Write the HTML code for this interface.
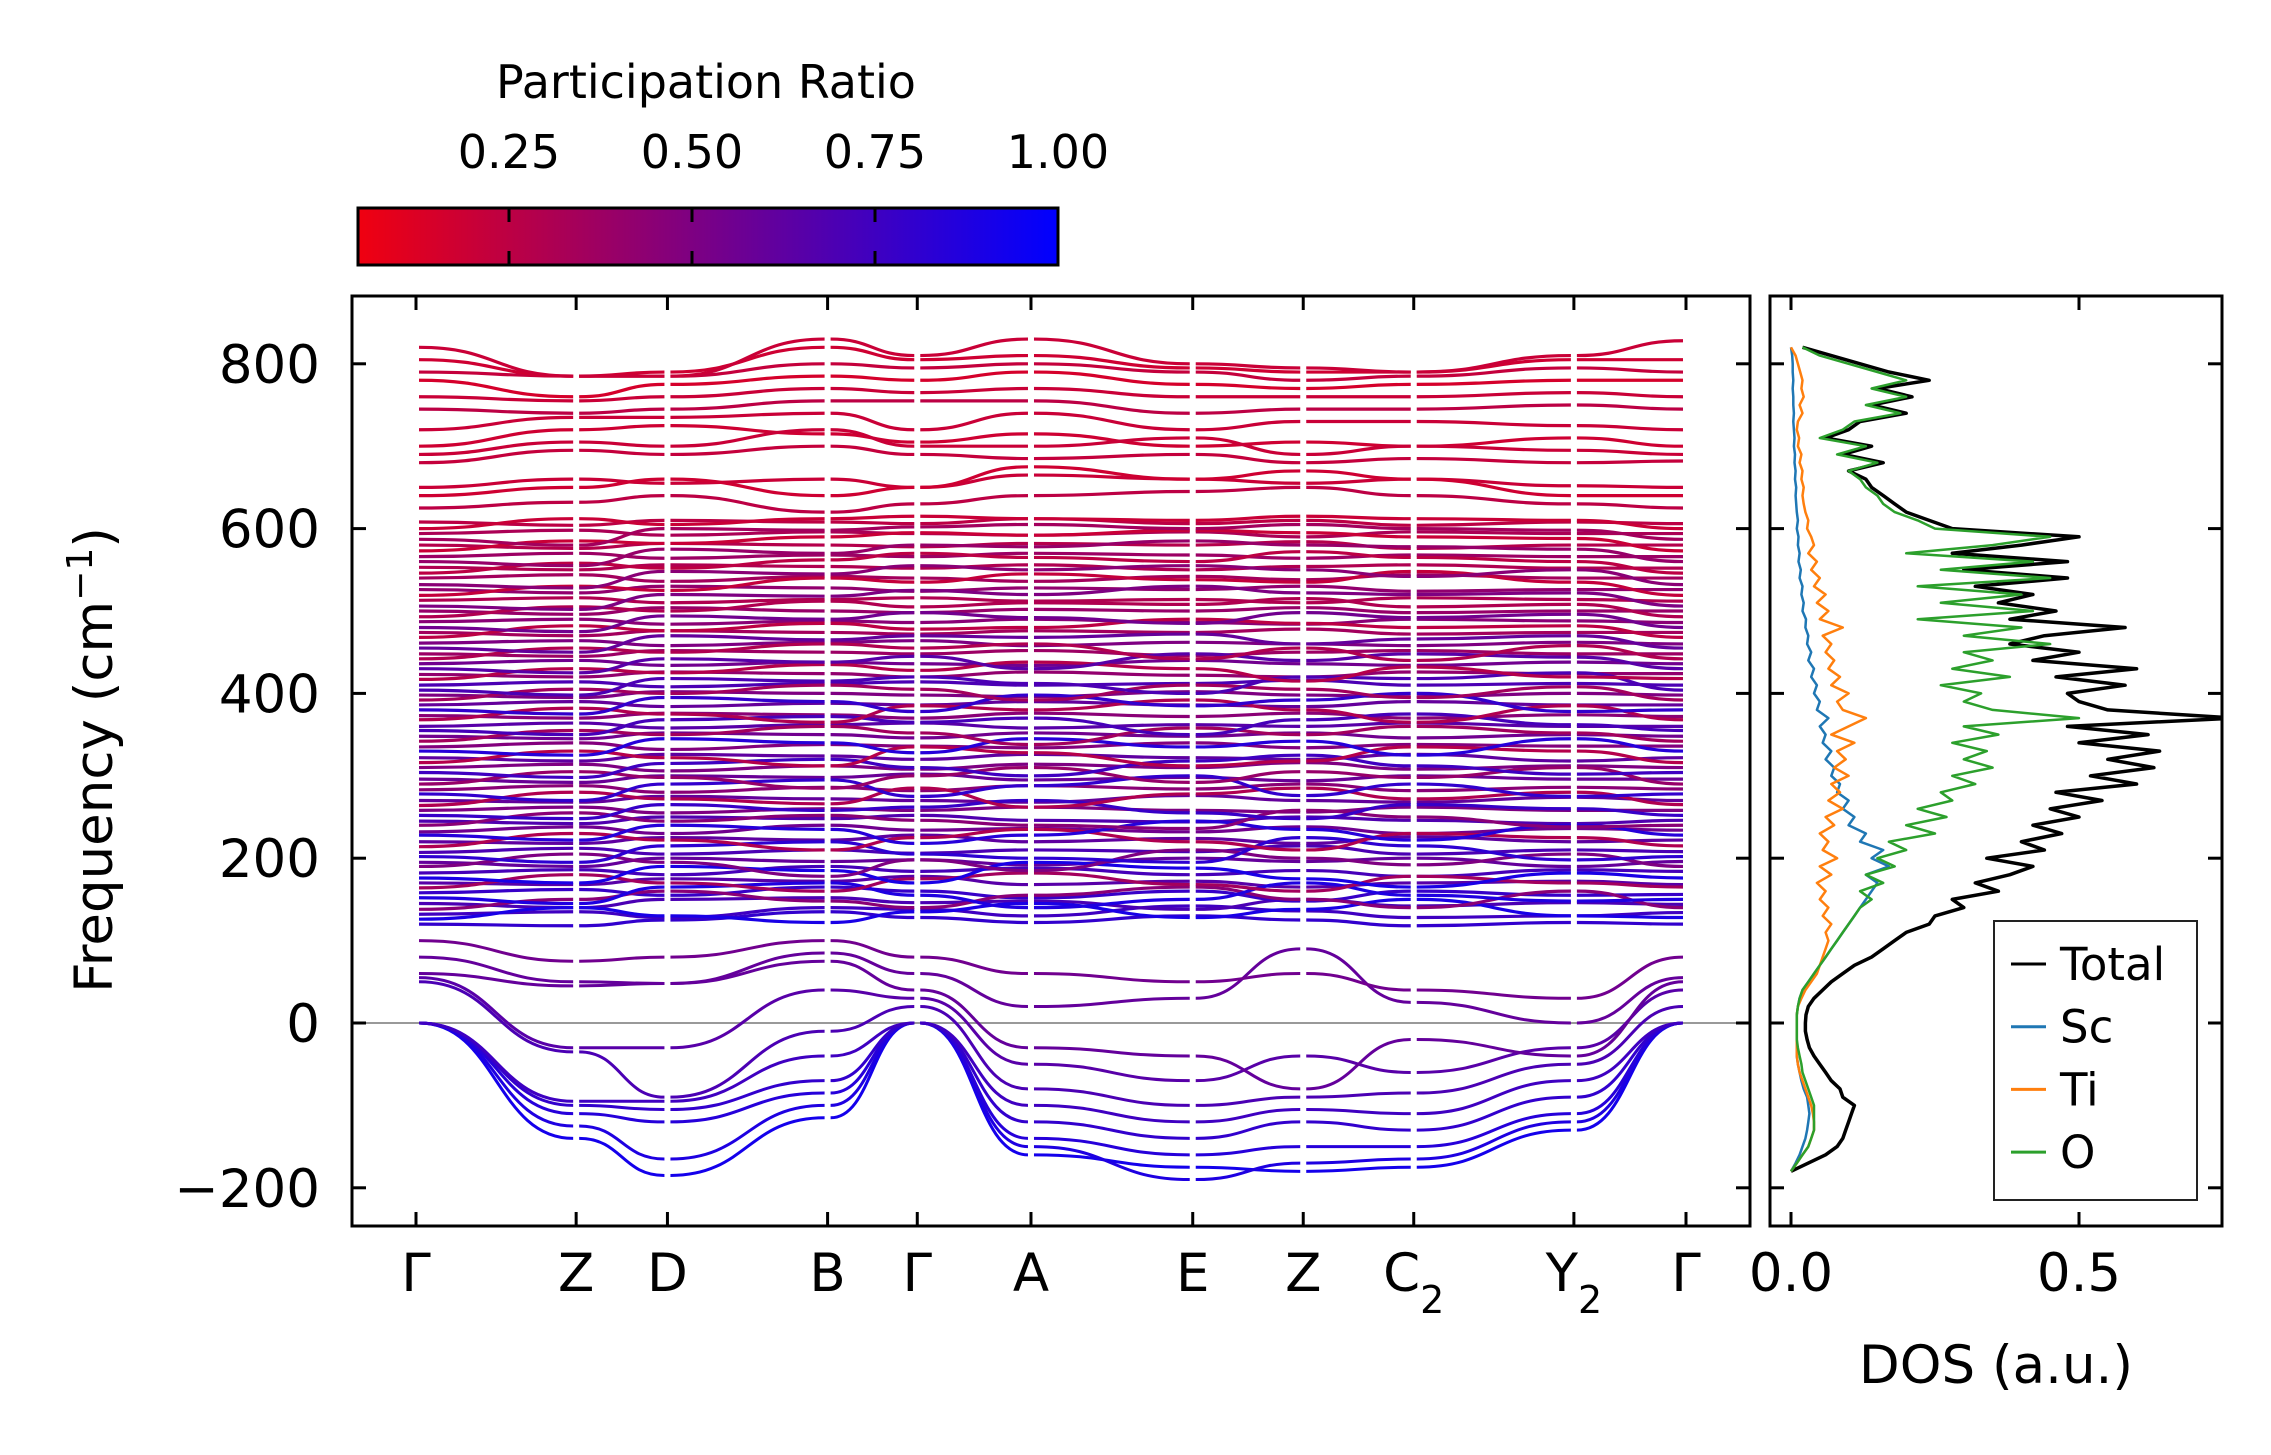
<!DOCTYPE html>
<html><head><meta charset="utf-8"><style>
html,body{margin:0;padding:0;background:#fff;}
svg{display:block;font-family:"DejaVu Sans","Liberation Sans",sans-serif;}
</style></head><body>
<svg id="fig" width="2271" height="1455" viewBox="0 0 2271 1455" xmlns="http://www.w3.org/2000/svg">
<defs>
<linearGradient id="cbgrad" x1="0" x2="1" y1="0" y2="0">
<stop offset="0" stop-color="rgb(240,0,16)"/><stop offset="1" stop-color="rgb(0,0,255)"/>
</linearGradient>
<clipPath id="mainclip"><rect x="352" y="296" width="1398" height="930"/></clipPath>
<clipPath id="dosclip"><rect x="1770" y="296" width="452" height="930"/></clipPath>
</defs>
<g>
<text x="706" y="98" font-size="46" text-anchor="middle">Participation Ratio</text>
<rect x="358" y="208" width="700" height="57" fill="url(#cbgrad)" stroke="#000" stroke-width="3"/>
<g id="cbticks"></g>
</g>
<g id="main"></g>
<g id="dos"></g>
<text transform="translate(112,760) rotate(-90)" font-size="53" text-anchor="middle">Frequency (cm<tspan baseline-shift="super" font-size="36">−1</tspan>)</text>
<text x="1996" y="1383" font-size="53" text-anchor="middle">DOS (a.u.)</text>
</svg>
<script>
const kLabels = ["Γ","Z","D","B","Γ","A","E","Z","C2","Y2","Γ"];
const kPos = [0, 1.0, 1.57, 2.57, 3.13, 3.84, 4.85, 5.54, 6.23, 7.23, 7.93];
const yTicks = [-200, 0, 200, 400, 600, 800];
const denseBands = [
[120,118,125,135,128,122,130,125,118,122,120],
[132,135,128,140,138,130,142,136,128,130,134],
[145,140,150,152,146,148,138,150,142,146,144],
[158,162,155,165,160,152,160,148,160,155,156],
[170,168,175,172,178,168,172,165,170,172,168],
[182,186,180,190,184,188,180,185,178,186,184],
[195,190,200,196,198,192,200,196,200,190,196],
[207,212,205,210,206,210,208,215,205,210,208],
[220,218,225,222,228,220,224,218,226,220,222],
[232,238,230,240,234,236,232,238,230,236,234],
[245,242,250,248,252,246,244,250,246,242,246],
[258,262,255,260,258,262,258,256,262,258,258],
[270,268,275,272,270,268,276,270,268,274,270],
[283,288,280,286,282,288,284,290,282,286,284],
[296,292,300,298,302,295,298,294,300,296,296],
[310,314,306,312,308,314,310,316,308,312,310],
[322,318,326,324,320,326,322,320,326,318,322],
[335,340,332,338,336,334,340,334,338,336,336],
[348,345,352,350,346,352,348,352,346,350,348],
[360,364,358,362,364,358,362,360,364,360,360],
[373,370,376,374,370,376,372,376,370,374,372],
[386,390,384,388,386,390,386,384,390,386,386],
[398,395,402,400,398,396,402,398,396,400,398],
[410,414,408,412,414,410,412,416,410,412,410],
[423,420,426,424,420,426,422,420,426,424,424],
[436,440,434,438,436,434,440,436,434,438,436],
[448,445,452,450,448,452,446,450,452,448,448],
[461,464,458,462,464,458,462,460,458,462,460],
[474,470,476,474,472,476,474,478,472,474,474],
[487,490,484,488,486,490,486,484,490,488,486],
[500,496,504,500,498,502,500,504,498,500,500],
[513,516,510,514,516,512,514,510,516,514,512],
[526,522,530,528,524,528,526,530,524,526,526],
[540,544,536,542,540,536,542,538,544,540,540],
[553,550,556,554,552,556,550,554,556,552,552],
[566,570,564,568,566,570,568,564,568,566,566],
[580,576,582,580,578,582,580,584,576,580,580],
[594,598,592,596,594,592,596,590,596,594,594],
[608,604,610,608,606,612,606,610,604,608,606],
[625,632,640,620,630,640,645,650,640,630,625],
[650,660,655,660,650,665,660,655,660,652,650],
[680,695,690,700,690,685,690,680,685,680,682],
[700,720,725,715,705,715,700,705,700,710,700],
[720,735,735,740,720,740,720,730,730,725,720],
[745,740,745,755,755,755,740,745,745,750,745],
[760,755,760,770,765,770,760,760,760,765,760],
[780,760,775,785,780,790,775,770,775,780,780],
[790,785,785,800,795,800,790,780,785,795,790],
[805,785,790,820,805,810,795,790,790,805,805],
[820,785,785,830,810,830,800,795,790,810,828]
];
const densePR = [0.8,0.75,0.7,0.78,0.65,0.72,0.6,0.7,0.62,0.55,
0.68,0.5,0.6,0.45,0.58,0.5,0.62,0.48,0.55,0.65,
0.45,0.6,0.5,0.7,0.42,0.55,0.38,0.5,0.35,0.45,
0.4,0.3,0.42,0.35,0.3,0.38,0.28,0.32,0.25,0.25,
0.2,0.22,0.18,0.2,0.25,0.2,0.15,0.22,0.18,0.2];
const extraBands = [
[126,140,130,122,135,145,128,138,150,130,128],
[138,150,160,148,140,155,165,150,140,160,140],
[152,145,165,170,155,140,150,170,155,148,150],
[164,180,170,160,175,182,168,160,178,170,165],
[176,170,190,185,170,195,188,175,165,182,176],
[190,205,195,178,198,185,210,200,192,205,190],
[202,195,215,220,205,200,195,225,215,198,202],
[214,230,222,210,225,235,220,210,230,225,215],
[228,222,240,235,218,228,245,235,222,240,228],
[240,255,245,252,246,240,236,258,250,238,240],
[252,248,265,258,262,270,255,248,265,260,252],
[264,280,272,266,285,262,278,285,272,280,265],
[278,270,290,295,275,288,300,276,290,275,278],
[290,305,298,285,300,310,292,305,298,310,290],
[304,298,315,320,310,300,318,325,312,302,304],
[316,330,322,312,335,328,312,318,335,330,316],
[330,325,345,340,328,345,335,342,325,345,330],
[342,355,350,360,352,338,358,350,360,352,342],
[355,350,368,372,365,370,350,368,375,362,355],
[368,382,375,365,385,380,392,380,365,385,368],
[380,375,395,390,378,398,385,392,400,378,380],
[392,405,400,410,405,392,410,405,395,408,392],
[404,398,418,415,420,412,400,420,418,425,404],
[417,430,425,435,428,438,430,415,432,420,418],
[430,425,442,438,445,430,448,440,448,444,430],
[442,455,450,460,455,460,442,455,440,458,442],
[455,450,470,465,470,468,472,460,466,470,455],
[468,482,476,485,478,480,490,485,480,482,468],
[480,475,494,490,498,492,485,498,492,496,480],
[493,505,500,512,505,510,508,515,505,508,493],
[506,502,520,518,525,520,530,522,520,522,506],
[519,530,525,540,535,545,538,535,548,535,519],
[532,528,548,545,555,550,555,550,542,550,532],
[546,558,552,562,570,565,560,572,565,560,546],
[560,555,575,570,580,578,585,580,578,575,560],
[573,585,582,590,595,592,598,595,590,588,573],
[587,580,600,598,602,605,600,605,600,598,587],
[600,612,605,612,615,612,610,615,612,610,600],
[640,650,660,640,650,675,660,670,660,640,640],
[690,705,700,720,700,700,710,690,700,695,690]
];
const extraPR = [0.9,0.45,0.88,0.35,0.9,0.5,0.82,0.3,0.85,0.45,
0.78,0.3,0.8,0.4,0.75,0.28,0.85,0.35,0.72,0.3,
0.8,0.35,0.7,0.28,0.65,0.3,0.6,0.25,0.55,0.3,
0.5,0.22,0.45,0.25,0.4,0.2,0.35,0.2,0.18,0.2];
const lowBands = [
[0,-140,-185,-115,0,-160,-175,-180,-175,-130,0],
[0,-125,-165,-100,0,-150,-190,-170,-165,-120,0],
[0,-110,-120,-85,0,-140,-160,-150,-150,-110,0],
[0,-100,-105,-70,0,-120,-140,-120,-130,-90,0],
[0,-95,-95,-40,0,-100,-120,-105,-110,-70,0],
[50,-35,-90,-10,20,-80,-100,-90,-85,-50,20],
[55,-30,-30,40,30,-50,-70,-40,-60,-30,40],
[60,45,48,75,40,-30,-40,-80,-20,-40,50],
[80,50,48,85,60,20,30,90,25,0,55],
[100,75,80,100,80,60,50,60,40,30,80]
];
const lowPR = [0.92,0.88,0.85,0.8,0.75,0.7,0.65,0.6,0.6,0.55];
const cbTicks = [0.25, 0.5, 0.75, 1.0];
const cbTickLabels = ["0.25","0.50","0.75","1.00"];
const dosStart = -180, dosStep = 10;
const dosTotal = [0,0.03,0.06,0.08,0.09,0.095,0.10,0.105,0.11,0.09,0.085,0.07,0.06,0.05,0.04,0.032,0.028,0.025,0.025,0.026,0.03,0.04,0.055,0.07,0.09,0.11,0.14,0.16,0.18,0.2,0.24,0.25,0.3,0.28,0.36,0.32,0.38,0.42,0.34,0.44,0.4,0.47,0.42,0.5,0.45,0.54,0.46,0.6,0.52,0.63,0.55,0.64,0.5,0.62,0.48,0.77,0.55,0.5,0.48,0.58,0.46,0.6,0.42,0.5,0.38,0.44,0.58,0.38,0.46,0.36,0.42,0.32,0.48,0.3,0.48,0.28,0.4,0.5,0.28,0.24,0.2,0.18,0.16,0.14,0.13,0.1,0.16,0.09,0.14,0.06,0.1,0.12,0.2,0.14,0.21,0.15,0.24,0.17,0.12,0.07,0.02];
const dosO = [0,0.01,0.02,0.03,0.035,0.04,0.04,0.04,0.04,0.035,0.03,0.025,0.02,0.018,0.015,0.012,0.01,0.01,0.01,0.01,0.012,0.015,0.02,0.03,0.04,0.05,0.06,0.07,0.08,0.09,0.1,0.11,0.12,0.14,0.12,0.16,0.13,0.18,0.15,0.2,0.17,0.25,0.2,0.27,0.22,0.28,0.26,0.32,0.28,0.35,0.3,0.34,0.28,0.36,0.3,0.5,0.35,0.3,0.33,0.26,0.38,0.28,0.35,0.3,0.45,0.3,0.4,0.22,0.42,0.26,0.4,0.22,0.45,0.26,0.42,0.2,0.35,0.45,0.25,0.22,0.18,0.16,0.15,0.13,0.12,0.1,0.15,0.08,0.13,0.05,0.09,0.11,0.19,0.13,0.2,0.14,0.2,0.15,0.1,0.05,0.02];
const dosSc = [0,0.008,0.015,0.02,0.025,0.028,0.03,0.032,0.03,0.028,0.022,0.018,0.015,0.012,0.01,0.01,0.01,0.01,0.01,0.01,0.012,0.015,0.02,0.03,0.04,0.05,0.06,0.07,0.08,0.09,0.1,0.11,0.12,0.13,0.14,0.15,0.13,0.17,0.14,0.16,0.12,0.13,0.1,0.11,0.09,0.1,0.08,0.085,0.07,0.075,0.06,0.07,0.055,0.06,0.05,0.065,0.045,0.05,0.04,0.045,0.035,0.04,0.03,0.035,0.028,0.03,0.025,0.026,0.02,0.022,0.018,0.02,0.015,0.017,0.013,0.015,0.012,0.013,0.01,0.012,0.01,0.009,0.008,0.009,0.007,0.008,0.006,0.007,0.005,0.006,0.005,0.004,0.005,0.004,0.004,0.003,0.004,0.003,0.003,0.002,0];
const dosTi = [0,0.01,0.02,0.03,0.035,0.04,0.04,0.038,0.035,0.03,0.025,0.02,0.015,0.012,0.01,0.01,0.01,0.01,0.01,0.01,0.012,0.018,0.025,0.035,0.045,0.05,0.055,0.06,0.065,0.06,0.07,0.055,0.065,0.05,0.06,0.045,0.07,0.05,0.08,0.055,0.065,0.05,0.075,0.06,0.09,0.065,0.085,0.07,0.1,0.075,0.095,0.08,0.11,0.07,0.1,0.13,0.09,0.08,0.1,0.07,0.085,0.065,0.075,0.06,0.07,0.055,0.09,0.05,0.065,0.045,0.06,0.04,0.05,0.035,0.045,0.03,0.04,0.035,0.028,0.03,0.025,0.022,0.02,0.022,0.018,0.02,0.015,0.018,0.012,0.014,0.01,0.012,0.02,0.015,0.022,0.018,0.02,0.016,0.012,0.008,0];
const dosTicks = [0.0, 0.5];

const NS = "http://www.w3.org/2000/svg";
function mk(tag, attrs, parent){ const e=document.createElementNS(NS,tag); for(const k in attrs) e.setAttribute(k,attrs[k]); parent.appendChild(e); return e; }
const M = {L:352,R:1750,T:296,B:1226};
const D = {L:1770,R:2222,T:296,B:1226};
const xK = k => 416 + (k - kPos[0]) / (kPos[10]-kPos[0]) * (1686-416);
const yF = v => 1023 - v * 0.824;
const xD = v => 1791 + v * 576;
const xCB = v => 326 + v * 732;
function prColor(p){ let t=(p-0.044)/(1-0.044); t=Math.max(0,Math.min(1,t)); return `rgb(${Math.round(240*(1-t))},0,${Math.round(16+239*t)})`; }

const cbg = document.getElementById('cbticks');
cbTicks.forEach((t,i)=>{
  const x=xCB(t);
  if(t<1){
    const l1=mk('line',{x1:x,x2:x,y1:208,y2:222,stroke:'#000','stroke-width':3},cbg);
    
    
    const l2=mk('line',{x1:x,x2:x,y1:251,y2:265,stroke:'#000','stroke-width':3},cbg);
    
    
  }
  const tx=mk('text',{x:x,y:168,'font-size':46,'text-anchor':'middle'},cbg);
  tx.textContent=cbTickLabels[i];
  
  
});

const main=document.getElementById('main');
const bandsG=mk('g',{'clip-path':'url(#mainclip)'},main);


const zl=mk('line',{x1:M.L,x2:M.R,y1:yF(0),y2:yF(0),stroke:'#999','stroke-width':2},bandsG);


function drawBand(vals, pr, w, name){
  for(let s=0;s<10;s++){
    const x0=xK(kPos[s])+3, x1=xK(kPos[s+1])-3, y0=yF(vals[s]), y1=yF(vals[s+1]);
    const dx=(x1-x0)/2;
    const p=mk('path',{d:`M${x0},${y0} C${x0+dx},${y0} ${x1-dx},${y1} ${x1},${y1}`,fill:'none',stroke:prColor(pr),'stroke-width':w},bandsG);
    
    
  }
}
denseBands.forEach((b,i)=>drawBand(b,densePR[i],3.2,'optical-band'));
extraBands.forEach((b,i)=>drawBand(b,extraPR[i],3.2,'optical-band'));
lowBands.forEach((b,i)=>drawBand(b,lowPR[i],3,'low-band'));
const frame=mk('rect',{x:M.L,y:M.T,width:M.R-M.L,height:M.B-M.T,fill:'none',stroke:'#000','stroke-width':3},main);


yTicks.forEach(v=>{
  const y=yF(v);
  const a=mk('line',{x1:M.L,x2:M.L+14,y1:y,y2:y,stroke:'#000','stroke-width':3},main);
  
  
  const b=mk('line',{x1:M.R-14,x2:M.R,y1:y,y2:y,stroke:'#000','stroke-width':3},main);
  
  
  const t=mk('text',{x:M.L-32,y:y+19,'font-size':53,'text-anchor':'end'},main);
  t.textContent=(v<0?'−':'')+Math.abs(v);
  
  
});
kLabels.forEach((lab,i)=>{
  const x=xK(kPos[i]);
  const a=mk('line',{x1:x,x2:x,y1:M.B-14,y2:M.B,stroke:'#000','stroke-width':3},main);
  
  
  const b=mk('line',{x1:x,x2:x,y1:M.T,y2:M.T+14,stroke:'#000','stroke-width':3},main);
  
  
  const t=mk('text',{x:x,y:1291,'font-size':53,'text-anchor':'middle'},main);
  if(lab.length>1){ t.textContent=lab[0]; const sp=mk('tspan',{'baseline-shift':'sub','font-size':38},t); sp.textContent=lab.slice(1); }
  else t.textContent=lab;
  
  
});

const dos=document.getElementById('dos');
const dosG=mk('g',{'clip-path':'url(#dosclip)'},dos);
const series=[[dosTotal,'#000','dos-total'],[dosSc,'#1f77b4','dos-sc'],[dosTi,'#ff7f0e','dos-ti'],[dosO,'#2ca02c','dos-o']];
series.forEach(([arr,col,name])=>{
  const pts=arr.map((v,i)=>`${xD(v).toFixed(1)},${yF(dosStart+i*dosStep).toFixed(1)}`).join(' ');
  const pl=mk('polyline',{points:pts,fill:'none',stroke:col,'stroke-width':name==='dos-total'?3.5:2.5,'stroke-linejoin':'round'},dosG);
  
  
});
const dframe=mk('rect',{x:D.L,y:D.T,width:D.R-D.L,height:D.B-D.T,fill:'none',stroke:'#000','stroke-width':3},dos);


yTicks.forEach(v=>{
  const y=yF(v);
  const a=mk('line',{x1:D.L,x2:D.L+14,y1:y,y2:y,stroke:'#000','stroke-width':3},dos);
  
  
  const b=mk('line',{x1:D.R-14,x2:D.R,y1:y,y2:y,stroke:'#000','stroke-width':3},dos);
  
  
});
dosTicks.forEach(v=>{
  const x=xD(v);
  const a=mk('line',{x1:x,x2:x,y1:D.B-14,y2:D.B,stroke:'#000','stroke-width':3},dos);
  
  
  const b=mk('line',{x1:x,x2:x,y1:D.T,y2:D.T+14,stroke:'#000','stroke-width':3},dos);
  
  
  const t=mk('text',{x:x,y:1291,'font-size':53,'text-anchor':'middle'},dos);
  t.textContent=v.toFixed(1);
  
  
});
const leg=mk('g',{},dos);


const lb=mk('rect',{x:1994,y:921,width:203,height:279,fill:'#fff',stroke:'#222','stroke-width':2},leg);


const legNames=['Total','Sc','Ti','O'];
series.forEach(([arr,col,name],i)=>{
  const y=964+i*62.7;
  const l=mk('line',{x1:2011,x2:2046,y1:y,y2:y,stroke:col,'stroke-width':3},leg);
  
  
  const t=mk('text',{x:2060,y:y+16,'font-size':45},leg);
  t.textContent=legNames[i];
  
  
});
</script>
</body></html>
